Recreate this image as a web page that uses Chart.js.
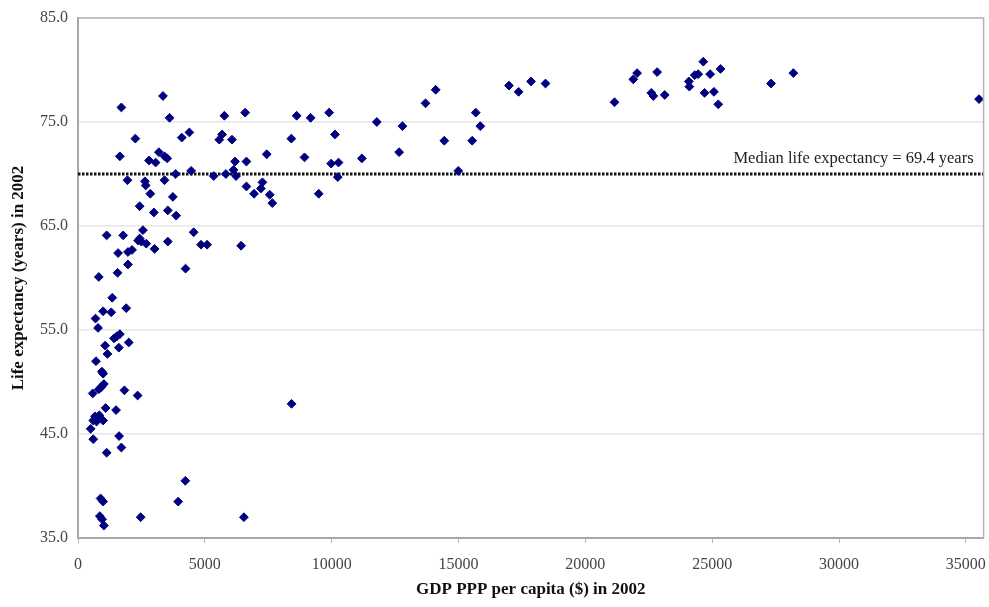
<!DOCTYPE html>
<html>
<head>
<meta charset="utf-8">
<script src="https://cdn.jsdelivr.net/npm/chart.js@4.4.1/dist/chart.umd.min.js"></script>
<style>
  html, body { margin: 0; padding: 0; background: #ffffff; }
  #wrap { width: 989px; height: 607px; position: relative; }
</style>
</head>
<body>
<div id="wrap"><canvas id="c" width="989" height="607"></canvas></div>
<script>
// ---- Data ----
const gdpPerCapita = [
  1710, 3350, 3610, 2260, 4090, 4390, 5770, 6590, 5680, 5570, 6070, 7440,
  1650, 2800, 3060, 3190, 3410, 3520, 6190, 6640, 3850, 4460, 5350, 5830,
  6130, 6230, 1950, 2640, 2670, 3410, 6640, 6940, 7210, 7270, 7560, 7660,
  2850, 3740, 2430, 2990, 3540, 3870, 4560, 1130, 1780, 2560, 2430, 2500,
  2690, 2370, 3540, 4850, 5090, 6430, 1580, 1970, 2130, 3020, 1970, 1560,
  820, 4240, 1350, 990, 1310, 1900, 690, 790, 1420, 1650, 1530, 2000,
  1070, 1160, 1610, 710, 940, 990, 1020, 910, 820, 580, 1830, 2350,
  1090, 1500, 670, 840, 990, 600, 500, 730, 1620, 600, 1710, 1130,
  8420, 4230, 3950, 890, 990, 860, 950, 1020, 2470, 6540,
  8620, 9170, 9900, 8410, 10130, 8930, 9980, 10270, 10240, 11190, 9490,
  11780, 12790, 12660, 13700, 14100, 14440, 14990, 15540, 15680, 15860,
  16990, 17370, 17860, 18430, 21150, 21890, 22040, 22830, 22600, 22680,
  23130, 24080, 24100, 24310, 24450, 24650, 24920, 25330, 24700, 25070,
  25240, 27320, 28200, 35520
];
const lifeExpectancy = [
  76.4, 77.5, 75.4, 73.4, 73.5, 74.0, 75.6, 75.9, 73.8, 73.3, 73.3, 71.9,
  71.7, 71.3, 71.1, 72.1, 71.7, 71.5, 71.2, 71.2, 70.0, 70.3, 69.8, 70.0,
  70.4, 69.8, 69.4, 69.3, 68.9, 69.4, 68.8, 68.1, 68.6, 69.2, 68.0, 67.2,
  68.1, 67.8, 66.9, 66.3, 66.5, 66.0, 64.4, 64.1, 64.1, 64.6, 63.8, 63.5,
  63.3, 63.6, 63.5, 63.2, 63.2, 63.1, 62.4, 62.5, 62.7, 62.8, 61.3, 60.5,
  60.1, 60.9, 58.1, 56.8, 56.7, 57.1, 56.1, 55.2, 54.2, 54.6, 54.4, 53.8,
  53.5, 52.7, 53.3, 52.0, 51.0, 50.8, 49.8, 49.5, 49.3, 48.9, 49.2, 48.7,
  47.5, 47.3, 46.7, 46.8, 46.3, 46.3, 45.5, 46.2, 44.8, 44.5, 43.7, 43.2,
  47.9, 40.5, 38.5, 38.8, 38.5, 37.1, 36.8, 36.2, 37.0, 37.0,
  75.6, 75.4, 75.9, 73.4, 73.8, 71.6, 71.0, 71.1, 69.7, 71.5, 68.1,
  75.0, 74.6, 72.1, 76.8, 78.1, 73.2, 70.3, 73.2, 75.9, 74.6,
  78.5, 77.9, 78.9, 78.7, 76.9, 79.1, 79.7, 79.8, 77.8, 77.5,
  77.6, 78.9, 78.4, 79.5, 79.6, 80.8, 79.6, 80.1, 77.8, 77.9,
  76.7, 78.7, 79.7, 77.2
];
const xTickValues = [0, 5000, 10000, 15000, 20000, 25000, 30000, 35000];
const yTickValues = [35, 45, 55, 65, 75, 85];
const xMin = 0, xMax = 35700;
const yMin = 35, yMax = 85;
const medianLineValue = 70;
const medianLabel = 'Median life expectancy = 69.4 years';
const xTitle = 'GDP PPP per capita ($) in 2002';
const yTitle = 'Life expectancy (years) in 2002';

const points = gdpPerCapita.map((x, i) => ({ x: x, y: lifeExpectancy[i] }));
const medianPoints = [{ x: xMin, y: medianLineValue }, { x: xMax, y: medianLineValue }];

const SERIF = '"Liberation Serif", "Times New Roman", serif';

const frameAndLabel = {
  id: 'frameAndLabel',
  afterDatasetsDraw(chart) {
    const { ctx, chartArea } = chart;
    ctx.save();
    ctx.strokeStyle = '#b4b4b4';
    ctx.lineWidth = 1.5;
    ctx.beginPath();
    ctx.moveTo(chartArea.left, chartArea.top);
    ctx.lineTo(chartArea.right, chartArea.top);
    ctx.lineTo(chartArea.right, chartArea.bottom);
    ctx.stroke();
    const yPix = chart.scales.y.getPixelForValue(medianLineValue);
    ctx.font = '16.5px ' + SERIF;
    ctx.fillStyle = '#222222';
    ctx.textAlign = 'right';
    ctx.textBaseline = 'alphabetic';
    ctx.fillText(medianLabel, chartArea.right - 10, yPix - 11);
    ctx.restore();
  }
};

new Chart(document.getElementById('c'), {
  type: 'scatter',
  data: {
    datasets: [
      {
        label: 'Countries',
        data: points,
        pointStyle: 'rectRot',
        pointRadius: 4.4,
        pointHoverRadius: 4.4,
        backgroundColor: '#00007f',
        borderColor: '#00007f',
        borderWidth: 1,
        order: 1
      },
      {
        type: 'line',
        label: 'Median',
        data: medianPoints,
        borderColor: '#111111',
        borderWidth: 3,
        borderDash: [2.5, 1.5],
        pointRadius: 0,
        fill: false,
        order: 2
      }
    ]
  },
  options: {
    responsive: false,
    devicePixelRatio: 1,
    animation: false,
    layout: { padding: { top: 18, right: 1, left: 0, bottom: 0 } },
    plugins: {
      legend: { display: false },
      tooltip: { enabled: false },
      title: { display: false }
    },
    scales: {
      x: {
        type: 'linear',
        min: xMin,
        max: xMax,
        afterBuildTicks: s => { s.ticks = xTickValues.map(v => ({ value: v })); },
        afterFit: s => { s.height = 69; s.paddingLeft = 0; s.paddingRight = 0; },
        ticks: {
          callback: v => String(v),
          font: { family: SERIF, size: 16 },
          color: '#444444',
          padding: 12,
          maxRotation: 0,
          autoSkip: false
        },
        grid: {
          drawOnChartArea: false,
          drawTicks: true,
          tickLength: 5,
          color: '#b8b8b8'
        },
        border: { display: true, color: '#a8a8a8', width: 2 },
        title: {
          display: true,
          text: xTitle,
          font: { family: SERIF, size: 17, weight: 'bold' },
          color: '#111111',
          padding: 7
        }
      },
      y: {
        type: 'linear',
        min: yMin,
        max: yMax,
        afterBuildTicks: s => { s.ticks = yTickValues.map(v => ({ value: v })); },
        afterFit: s => { s.width = 78; s.paddingTop = 0; s.paddingBottom = 0; },
        ticks: {
          callback: v => Number(v).toFixed(1),
          font: { family: SERIF, size: 16 },
          color: '#444444',
          padding: 10
        },
        grid: {
          drawTicks: false,
          color: '#e6e6e6',
          lineWidth: 1.5
        },
        border: { display: true, color: '#a8a8a8', width: 2 },
        title: {
          display: true,
          text: yTitle,
          font: { family: SERIF, size: 17, weight: 'bold' },
          color: '#111111',
          padding: 8
        }
      }
    }
  },
  plugins: [frameAndLabel]
});
</script>
</body>
</html>
